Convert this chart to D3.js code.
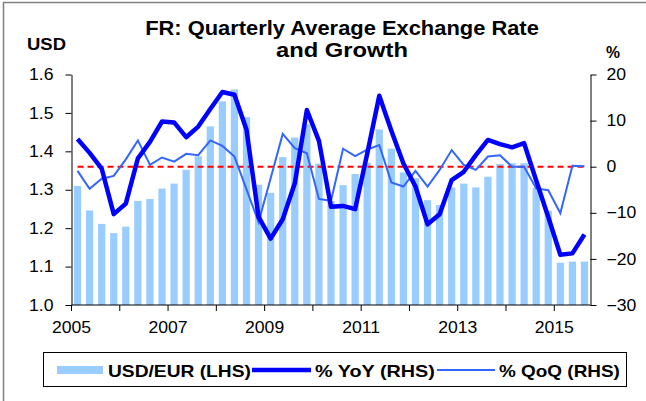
<!DOCTYPE html>
<html>
<head>
<meta charset="utf-8">
<script src="https://cdn.jsdelivr.net/npm/d3@7"></script>
<style>
  body { margin: 0; background: #fff; }
  svg { display: block; font-family: "Liberation Sans", Arial, sans-serif; }
</style>
</head>
<body>
<div id="chart"></div>
<script>
const W = 646, H = 401;

// quarters 2005Q1 .. 2015Q3
const quarters = [
  "2005Q1","2005Q2","2005Q3","2005Q4","2006Q1","2006Q2","2006Q3","2006Q4",
  "2007Q1","2007Q2","2007Q3","2007Q4","2008Q1","2008Q2","2008Q3","2008Q4",
  "2009Q1","2009Q2","2009Q3","2009Q4","2010Q1","2010Q2","2010Q3","2010Q4",
  "2011Q1","2011Q2","2011Q3","2011Q4","2012Q1","2012Q2","2012Q3","2012Q4",
  "2013Q1","2013Q2","2013Q3","2013Q4","2014Q1","2014Q2","2014Q3","2014Q4",
  "2015Q1","2015Q2","2015Q3"
];
const usdEur = [
  1.310, 1.246, 1.211, 1.187, 1.204, 1.271, 1.276, 1.303,
  1.316, 1.352, 1.387, 1.465, 1.530, 1.561, 1.489, 1.313,
  1.292, 1.385, 1.436, 1.470, 1.368, 1.270, 1.312, 1.341,
  1.370, 1.457, 1.407, 1.345, 1.330, 1.273, 1.260, 1.306,
  1.316, 1.306, 1.334, 1.367, 1.369, 1.369, 1.305, 1.245,
  1.110, 1.113, 1.113
];
const yoy = [
  6.0, 3.0, -0.4, -10.3, -8.0, 1.8, 5.4, 9.8,
  9.6, 6.4, 8.7, 12.5, 16.2, 15.6, 8.0, -10.9,
  -15.6, -11.4, -3.6, 12.3, 5.6, -8.7, -8.5, -9.2,
  2.8, 15.4, 7.8, 0.7, -4.3, -12.5, -10.3, -2.9,
  -1.1, 2.5, 5.8, 4.9, 4.2, 5.1, -3.0, -10.9,
  -19.1, -18.8, -14.7
];
const qoq = [
  -0.9, -4.8, -2.6, -2.0, 1.6, 5.7, 0.4, 2.0,
  1.1, 2.8, 2.5, 5.7, 4.5, 2.2, -4.9, -12.0,
  -2.5, 7.1, 4.0, 2.9, -7.0, -7.4, 3.9, 2.3,
  3.7, 4.7, -3.4, -4.3, -0.9, -4.3, -0.7, 3.6,
  0.4, -0.7, 2.2, 2.5, 0.0, 0.0, -4.7, -5.1,
  -10.1, 0.2, 0.1
];
const leftTicks = [1.0, 1.1, 1.2, 1.3, 1.4, 1.5, 1.6];
const rightTicks = [-30, -20, -10, 0, 10, 20];
const yearLabels = ["2005","2007","2009","2011","2013","2015"];

const plot = {left: 71.5, right: 590.5, top: 74.5, bottom: 305};

const svg = d3.select("#chart").append("svg")
  .attr("width", W).attr("height", H);

// stretch short labels horizontally like the original export
function stretch(sel, k) {
  sel.each(function() {
    const w = this.getComputedTextLength();
    d3.select(this).attr("textLength", w * k).attr("lengthAdjust", "spacingAndGlyphs");
  });
}
// text scaled horizontally (glyphs widened) to a given width
function wideText(parent, x, y, str, size, anchor, width) {
  const g = parent.append("g").attr("transform", `translate(${x},${y})`);
  const t = g.append("text").attr("x", 0).attr("y", 0)
    .attr("text-anchor", anchor).attr("font-size", size).attr("font-weight", "bold")
    .text(str);
  const k = width / t.node().getComputedTextLength();
  g.attr("transform", `translate(${x},${y}) scale(${k},1)`);
  return t;
}

// outer frame (only left/top edges visible)
svg.append("rect")
  .attr("x", 3.5).attr("y", 2.5).attr("width", W + 10).attr("height", H + 10)
  .attr("fill", "none").attr("stroke", "#808080").attr("stroke-width", 1.5);

const x = d3.scaleBand()
  .domain(quarters)
  .range([plot.left, plot.right])
  .paddingInner(0.4).paddingOuter(0.2);
const yL = d3.scaleLinear().domain([1.0, 1.6]).range([plot.bottom, plot.top]);
const yR = d3.scaleLinear().domain([-30, 20]).range([plot.bottom, plot.top]);
const cx = q => x(q) + x.bandwidth() / 2;

// bars
svg.append("g").selectAll("rect")
  .data(quarters)
  .join("rect")
    .attr("x", q => x(q))
    .attr("width", x.bandwidth())
    .attr("y", (q, i) => yL(usdEur[i]))
    .attr("height", (q, i) => yL(1.0) - yL(usdEur[i]))
    .attr("fill", "#99ccff");

// zero line on right axis
svg.append("line")
  .attr("x1", cx(quarters[0])).attr("x2", cx(quarters[quarters.length - 1]))
  .attr("y1", yR(0)).attr("y2", yR(0))
  .attr("stroke", "#ff0000").attr("stroke-width", 2)
  .attr("stroke-dasharray", "6,4");

const line = vals => d3.line()
  .x((q) => cx(q))
  .y((q, i) => yR(vals[i]))(quarters);

svg.append("path").attr("d", line(qoq))
  .attr("fill", "none").attr("stroke", "#3366ff").attr("stroke-width", 2)
  .attr("stroke-linejoin", "miter");
svg.append("path").attr("d", line(yoy))
  .attr("fill", "none").attr("stroke", "#0000ff").attr("stroke-width", 4.5)
  .attr("stroke-linejoin", "round");

// axes
const axisFont = g => g.selectAll("text")
  .attr("font-size", 16).attr("fill", "#000")
  .attr("font-family", "'Liberation Sans', Arial, sans-serif");

const gL = svg.append("g").attr("transform", `translate(${plot.left},0)`)
  .call(d3.axisLeft(yL).tickValues(leftTicks).tickFormat(d3.format(".1f"))
    .tickSize(6).tickPadding(12).tickSizeOuter(0));
axisFont(gL);
stretch(gL.selectAll("text"), 1.1);

const gR = svg.append("g").attr("transform", `translate(${plot.right},0)`)
  .call(d3.axisRight(yR).tickValues(rightTicks).tickFormat(d3.format("d"))
    .tickSize(6).tickPadding(10).tickSizeOuter(0));
axisFont(gR);
stretch(gR.selectAll("text"), 1.1);

// x axis: tick at start of each year, labels every two years
const yearStarts = quarters.filter(q => q.endsWith("Q1"));
const xPos = q => x(q) - x.step() * x.paddingInner() / 2;
const gX = svg.append("g").attr("transform", `translate(0,${plot.bottom})`);
gX.append("line").attr("x1", plot.left).attr("x2", plot.right)
  .attr("stroke", "#000");
gX.selectAll("line.tick")
  .data(yearStarts)
  .join("line").attr("class", "tick")
  .attr("x1", q => xPos(q)).attr("x2", q => xPos(q))
  .attr("y1", 0).attr("y2", 6).attr("stroke", "#000");
gX.selectAll("text")
  .data(yearStarts.filter(q => yearLabels.includes(q.slice(0, 4))))
  .join("text")
  .attr("x", q => xPos(q)).attr("y", 28)
  .attr("text-anchor", "middle").attr("font-size", 16)
  .text(q => q.slice(0, 4))
  .call(stretch, 1.1);
svg.selectAll(".domain").attr("stroke", "#000");

// titles
wideText(svg, 342, 35, "FR: Quarterly Average Exchange Rate", 19.5, "middle", 394);
wideText(svg, 342, 57, "and Growth", 19.5, "middle", 132);
wideText(svg, 27, 50, "USD", 17, "start", 39);
wideText(svg, 613, 58, "%", 17, "middle", 14);

// legend
const lg = svg.append("g");
lg.append("rect").attr("x", 43.5).attr("y", 352.5).attr("width", 583).attr("height", 34)
  .attr("fill", "#fff").attr("stroke", "#000").attr("stroke-width", 1);
lg.append("rect").attr("x", 57).attr("y", 366).attr("width", 46).attr("height", 8)
  .attr("fill", "#99ccff");
lg.append("line").attr("x1", 252).attr("x2", 311).attr("y1", 370).attr("y2", 370)
  .attr("stroke", "#0000ff").attr("stroke-width", 4.5);
lg.append("line").attr("x1", 437).attr("x2", 495).attr("y1", 370).attr("y2", 370)
  .attr("stroke", "#3366ff").attr("stroke-width", 2);
const legendItems = [
  {label: "USD/EUR (LHS)", x: 108, w: 143},
  {label: "% YoY (RHS)", x: 315, w: 120},
  {label: "% QoQ (RHS)", x: 499, w: 121}
];
legendItems.forEach(d => wideText(lg, d.x, 376.5, d.label, 16.5, "start", d.w));
</script>
</body>
</html>
